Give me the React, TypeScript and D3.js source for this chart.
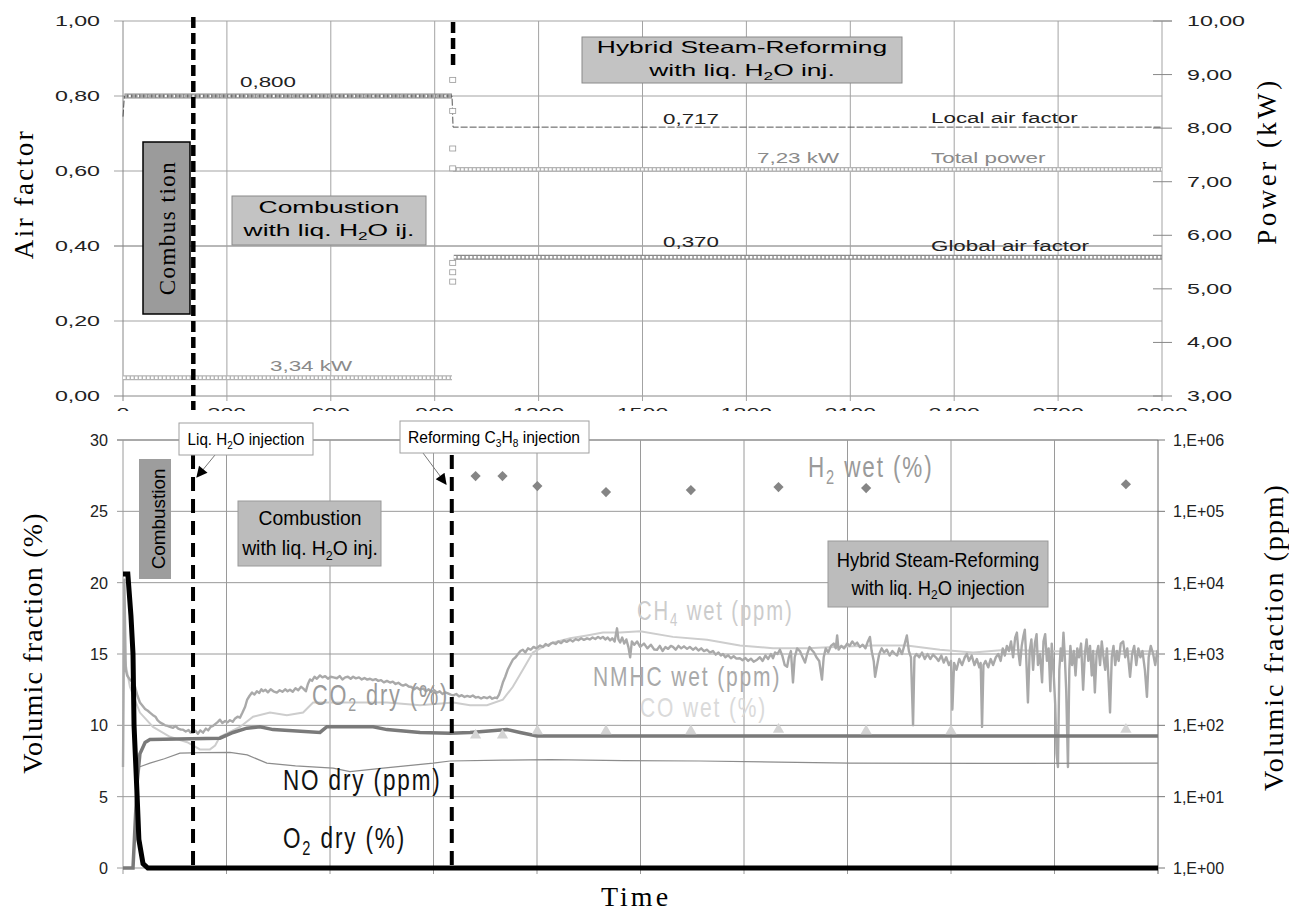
import React from "react";
import * as d3 from "d3";

const W = 1289;
const H = 911;
const SANS = "'Liberation Sans', Arial, Helvetica, sans-serif";
const SERIF = "'Liberation Serif', 'Times New Roman', Times, serif";

// ticks
const timeTicks = [0, 300, 600, 900, 1200, 1500, 1800, 2100, 2400, 2700, 3000];
const airTicks = [0, 0.2, 0.4, 0.6, 0.8, 1.0];
const powerTicks = [3, 4, 5, 6, 7, 8, 9, 10];
const fracTicks = [0, 5, 10, 15, 20, 25, 30];
const ppmTicks = [1, 10, 100, 1e3, 1e4, 1e5, 1e6];

// phase changes (s): liq. H2O injection, reforming C3H8 injection
const eventTimes = [203, 953];

// ---- top panel: [time s, value] ----
const localAir = [[0, 0.745], [4, 0.8], [950, 0.8], [953, 0.717], [3000, 0.717]];
const globalAir = [[4, 0.8], [950, 0.8], null, [955, 0.37], [3000, 0.37]];
const globalAirTransient = [[952, 0.843], [952, 0.76], [952, 0.66], [952, 0.607], [952, 0.355], [952, 0.33], [952, 0.305]];
const totalPower = [[0, 3.34], [950, 3.34], null, [953, 7.23], [3000, 7.23]];

// ---- bottom panel ----
// O2 dry (%)
const o2Dry = [[0, 20.6], [14, 20.6], [23, 17.7], [29, 15], [32, 10], [41, 5], [46, 2], [58, 0.3], [72, 0], [3000, 0]];
// CO2 dry (%)
const co2Dry = [[0, 0], [29, 0], [35, 3], [41, 6], [49, 8], [64, 8.8], [78, 9.0], [281, 9.1], [319, 9.5], [359, 9.8], [397, 9.9], [435, 9.7],
  [571, 9.5], [591, 9.9], [725, 9.9], [765, 9.7], [861, 9.5], [948, 9.45], [1006, 9.5], [1060, 9.6], [1113, 9.7], [1151, 9.5], [1200, 9.25], [3000, 9.25]];
// NO dry (ppm)
const noDry = [[49, 26.3], [78, 29.5], [120, 34], [165, 40.7], [230, 41.5], [310, 41.7], [360, 38.5], [417, 29.5], [500, 27], [609, 25.1],
  [658, 22.4], [754, 25.1], [899, 29.5], [948, 31.6], [1100, 32.5], [1238, 33.1], [1450, 32], [1672, 31.6], [1900, 30.5], [2107, 29.5],
  [2500, 29.3], [3000, 29.5]];
// CH4 wet (ppm)
const ch4Wet = [[0, 9000], [6, 800], [20, 347], [49, 151], [87, 95], [136, 69], [186, 58], [223, 46], [252, 46], [267, 52], [281, 69],
  [339, 95], [377, 132], [426, 151], [475, 138], [522, 151], [551, 209], [620, 209], [765, 209], [861, 191], [957, 209], [1006, 191],
  [1055, 191], [1101, 229], [1130, 347], [1159, 603], [1188, 1047], [1217, 1259], [1246, 1445], [1296, 1660], [1345, 1820], [1391, 1995],
  [1441, 1995], [1499, 2089], [1594, 1738], [1693, 1585], [1788, 1318], [1884, 1202], [1983, 1202], [2078, 1259], [2174, 1318],
  [2272, 1318], [2368, 1148], [2464, 1047], [2562, 1148], [2658, 1096], [2754, 1096], [2852, 1096], [2948, 1096], [3000, 1096]];
// NMHC wet (ppm)
const nmhcWet = [[0, 26], [4, 11000], [8, 600], [12, 500], [20, 437], [29, 400], [35, 347], [42, 260], [49, 209], [56, 190], [64, 170],
  [72, 160], [78, 151], [86, 140], [94, 132], [100, 118], [107, 110], [115, 105], [122, 100], [129, 98], [136, 95], [145, 92], [152, 98],
  [160, 90], [168, 87], [174, 87], [182, 82], [190, 86], [196, 79], [203, 79], [210, 84], [217, 76], [224, 85], [232, 79], [240, 90],
  [247, 85], [254, 95], [261, 98], [268, 105], [275, 112], [281, 120], [288, 108], [296, 115], [303, 110], [310, 118], [318, 112],
  [325, 125], [332, 132], [339, 128], [346, 150], [354, 182], [360, 230], [367, 260], [374, 288], [381, 270], [388, 300], [395, 285],
  [401, 320], [406, 300], [413, 316], [420, 290], [428, 320], [436, 300], [446, 288], [454, 310], [462, 295], [470, 320], [477, 300],
  [484, 316], [492, 295], [500, 330], [508, 310], [516, 347], [522, 330], [530, 300], [536, 380], [542, 440], [548, 420], [555, 480],
  [562, 450], [571, 501], [578, 470], [586, 490], [594, 450], [602, 480], [610, 470], [620, 457], [628, 490], [636, 440], [644, 470],
  [652, 480], [660, 450], [667, 479], [675, 455], [684, 470], [692, 440], [700, 460], [708, 437], [716, 450], [724, 430], [732, 445],
  [740, 420], [748, 430], [756, 400], [765, 420], [774, 398], [782, 410], [790, 380], [798, 395], [806, 370], [812, 360], [820, 375],
  [828, 350], [836, 345], [844, 320], [852, 340], [861, 316], [870, 330], [878, 300], [886, 320], [894, 295], [902, 310], [910, 288],
  [918, 300], [926, 275], [934, 290], [942, 280], [950, 270], [957, 263], [966, 275], [974, 255], [982, 265], [990, 250], [998, 258],
  [1006, 251], [1014, 262], [1022, 245], [1030, 250], [1038, 238], [1046, 248], [1055, 240], [1063, 252], [1070, 236], [1078, 245],
  [1084, 240], [1090, 270], [1096, 330], [1101, 398], [1108, 480], [1115, 600], [1122, 700], [1130, 832], [1138, 900], [1145, 1000],
  [1152, 1100], [1159, 1148], [1166, 1050], [1174, 1200], [1182, 1148], [1190, 1259], [1198, 1200], [1209, 1318], [1217, 1250],
  [1225, 1380], [1233, 1300], [1240, 1400], [1246, 1445], [1254, 1380], [1262, 1500], [1270, 1420], [1278, 1550], [1286, 1480],
  [1296, 1585], [1304, 1500], [1312, 1620], [1320, 1560], [1328, 1660], [1336, 1580], [1345, 1660], [1353, 1600], [1361, 1700],
  [1369, 1620], [1377, 1738], [1384, 1650], [1391, 1738], [1398, 1600], [1405, 1700], [1412, 1550], [1418, 1660], [1425, 1500],
  [1432, 2291], [1436, 1600], [1441, 1450], [1447, 1700], [1453, 1400], [1459, 1600], [1465, 1250], [1470, 900], [1475, 1500],
  [1482, 1350], [1490, 1500], [1499, 1259], [1510, 1400], [1520, 1200], [1530, 1350], [1540, 1150], [1548, 1148], [1556, 1300],
  [1564, 1100], [1572, 1250], [1580, 1180], [1588, 1300], [1594, 1259], [1602, 1150], [1610, 1300], [1618, 1200], [1626, 1280],
  [1635, 1180], [1643, 1259], [1652, 1150], [1660, 1230], [1668, 1120], [1676, 1200], [1684, 1100], [1693, 1148], [1701, 1050],
  [1710, 1100], [1718, 980], [1726, 1050], [1733, 955], [1739, 1000], [1746, 900], [1754, 960], [1762, 871], [1770, 930], [1778, 860],
  [1788, 871], [1796, 820], [1804, 880], [1812, 800], [1820, 860], [1828, 780], [1838, 832], [1846, 900], [1854, 800], [1862, 950],
  [1870, 850], [1878, 1000], [1884, 871], [1890, 1050], [1897, 1000], [1904, 1148], [1911, 950], [1918, 700], [1925, 661], [1930, 900],
  [1936, 1100], [1942, 398], [1947, 900], [1954, 1200], [1962, 1100], [1970, 900], [1977, 759], [1983, 1000], [1990, 1250], [1996, 1148],
  [2003, 1050], [2010, 900], [2018, 800], [2026, 437], [2031, 900], [2037, 1200], [2044, 1050], [2052, 1300], [2060, 1400], [2066, 1200],
  [2070, 1820], [2074, 1150], [2082, 1300], [2090, 1200], [2099, 1400], [2106, 1300], [2114, 1500], [2121, 1350], [2128, 1445],
  [2136, 1250], [2144, 1350], [2152, 1200], [2159, 1500], [2165, 1738], [2170, 1100], [2176, 800], [2180, 479], [2186, 700], [2192, 1000],
  [2199, 1200], [2206, 1050], [2214, 1150], [2222, 950], [2230, 1100], [2238, 1000], [2244, 955], [2250, 1200], [2258, 1000],
  [2266, 1400], [2272, 1820], [2278, 1100], [2284, 900], [2290, 100], [2294, 900], [2300, 1000], [2308, 900], [2316, 1050], [2324, 850],
  [2332, 1000], [2340, 850], [2348, 980], [2356, 900], [2364, 800], [2372, 950], [2379, 759], [2386, 900], [2394, 700], [2400, 800],
  [2404, 166], [2409, 750], [2416, 600], [2424, 850], [2432, 700], [2440, 900], [2446, 1000], [2452, 800], [2460, 950], [2468, 700],
  [2475, 850], [2482, 650], [2486, 750], [2490, 95], [2494, 700], [2500, 800], [2508, 650], [2515, 850], [2522, 700], [2530, 900],
  [2537, 1000], [2544, 800], [2550, 1200], [2556, 950], [2562, 1300], [2568, 1100], [2574, 1500], [2580, 900], [2586, 1700],
  [2591, 1995], [2596, 1000], [2600, 700], [2605, 1300], [2610, 1800], [2614, 2188], [2618, 900], [2623, 209], [2628, 1100],
  [2633, 1600], [2638, 600], [2643, 1400], [2648, 1900], [2652, 700], [2658, 1000], [2664, 400], [2668, 1500], [2673, 1900], [2678, 800],
  [2683, 1200], [2688, 300], [2692, 1400], [2697, 600], [2702, 200], [2706, 40], [2710, 26], [2714, 600], [2718, 1200], [2722, 800],
  [2726, 1995], [2730, 900], [2734, 300], [2739, 26], [2743, 600], [2746, 1300], [2751, 700], [2756, 1100], [2761, 500], [2766, 1200],
  [2771, 900], [2777, 1400], [2783, 316], [2788, 1000], [2793, 1600], [2798, 800], [2803, 1300], [2808, 500], [2812, 1100], [2817, 288],
  [2822, 1000], [2827, 1300], [2832, 700], [2837, 1500], [2842, 900], [2847, 600], [2852, 1200], [2857, 400], [2861, 151], [2866, 900],
  [2871, 1300], [2876, 700], [2881, 1100], [2886, 800], [2892, 1400], [2899, 1500], [2905, 900], [2911, 1200], [2919, 479], [2925, 1000],
  [2931, 1300], [2937, 700], [2943, 1200], [2949, 900], [2955, 1100], [2962, 600], [2968, 251], [2973, 900], [2979, 1300], [2986, 1000],
  [2992, 700], [2998, 1100], [3000, 900]];
// H2 wet (%) and CO wet (%) samples
const h2Wet = [[1022, 27.47], [1100, 27.47], [1201, 26.77], [1400, 26.35], [1646, 26.49], [1900, 26.7], [2154, 26.63], [2907, 26.9]];
const coWet = [[1022, 9.3], [1100, 9.3], [1201, 9.6], [1400, 9.6], [1646, 9.6], [1900, 9.7], [2154, 9.6], [2400, 9.6], [2907, 9.7]];

// scales
const xTop = d3.scaleLinear().domain([0, 3000]).range([123, 1162]);
const yAir = d3.scaleLinear().domain([0, 1]).range([396, 21]);
const yPow = d3.scaleLinear().domain([3, 10]).range([396, 21]);
const xBot = d3.scaleLinear().domain([0, 3000]).range([123, 1158]);
const yPct = d3.scaleLinear().domain([0, 30]).range([868, 440]);
const yPpm = d3.scaleLog().domain([1, 1e6]).range([868, 440]);

const mkLine = (xs, ys) =>
  d3.line().defined((d) => d != null).x((d) => xs(d[0])).y((d) => ys(d[1]));

const comma = (v, n) => v.toFixed(n).replace(".", ",");

// text helper: translate, rotate, then horizontal stretch along text direction
const Txt = ({ x, y, size, sx = 1, rot = 0, fam = SANS, fill = "#000", anchor = "start", ls = 0, children }) => (
  <text
    transform={`translate(${x},${y}) rotate(${rot}) scale(${sx},1)`}
    fontSize={size}
    fontFamily={fam}
    fill={fill}
    textAnchor={anchor}
    letterSpacing={ls}
  >
    {children}
  </text>
);

// segments at odd positions are subscripts
const chem = (segs, size) =>
  segs.map((s, i) => {
    const sub = i % 2 === 1;
    const dy = sub ? size * 0.22 : i > 0 ? -size * 0.22 : 0;
    return (
      <tspan key={i} fontSize={sub ? size * 0.65 : undefined} dy={dy || undefined}>
        {s}
      </tspan>
    );
  });

// band of hollow square markers
const Hatch = ({ d, color }) => (
  <g fill="none">
    <path d={d} stroke={color} strokeWidth={5} />
    <path d={d} stroke="#fff" strokeWidth={2.4} strokeDasharray="2.6,1.4" />
  </g>
);

const App = () => {
  const airLine = mkLine(xTop, yAir);
  const powLine = mkLine(xTop, yPow);
  const pctLine = mkLine(xBot, yPct);
  const ppmLine = mkLine(xBot, yPpm);
  const diamond = d3.symbol(d3.symbolSquare, 52)();
  const triangle = d3.symbol(d3.symbolTriangle, 55)();

  const R = xTop.range()[1];
  const BR = xBot.range()[1];

  return (
    <svg width={W} height={H} style={{ position: "absolute", left: 0, top: 0, background: "#fff" }}>
      <defs>
        <clipPath id="xlabclip">
          <rect x={0} y={406} width={W} height={5} />
        </clipPath>
        <marker id="ah" viewBox="0 0 10 10" refX={9} refY={5} markerWidth={13} markerHeight={11} markerUnits="userSpaceOnUse" orient="auto">
          <path d="M0,0 L10,5 L0,10 z" fill="#000" />
        </marker>
      </defs>

      {/* ================= TOP PANEL ================= */}
      <g strokeWidth={1}>
        {airTicks.map((v) => (
          <line key={v} x1={114} x2={v === 1 ? 1172 : R} y1={yAir(v)} y2={yAir(v)}
            stroke={v === 0 ? "#888" : v === 0.4 ? "#707070" : "#a3a3a3"} />
        ))}
        {timeTicks.map((t) => (
          <line key={t} x1={xTop(t)} x2={xTop(t)} y1={yAir(1)} y2={yAir(0) + 5} stroke={t === 0 ? "#888" : "#a3a3a3"} />
        ))}
        {powerTicks.map((p) => (
          <line key={p} x1={R - 9} x2={R + 10} y1={yPow(p)} y2={yPow(p)} stroke="#888" />
        ))}
      </g>

      {/* tick labels */}
      {airTicks.map((v) => (
        <Txt key={v} x={100} y={yAir(v) + 5} size={14.5} sx={1.6} anchor="end" fill="#222">
          {comma(v, 2)}
        </Txt>
      ))}
      {powerTicks.map((p) => (
        <Txt key={p} x={1187} y={yPow(p) + 5} size={14.5} sx={1.6} fill="#222">
          {comma(p, 2)}
        </Txt>
      ))}
      <g clipPath="url(#xlabclip)">
        {timeTicks.map((t) => (
          <Txt key={t} x={xTop(t)} y={418} size={14.5} sx={1.6} anchor="middle" fill="#222">
            {t}
          </Txt>
        ))}
      </g>

      {/* series */}
      <Hatch d={powLine(totalPower)} color="#b4b4b4" />
      <Hatch d={airLine(globalAir)} color="#8a8a8a" />
      <path d={airLine(localAir)} fill="none" stroke="#555" strokeWidth={1} strokeDasharray="7,2" />
      {globalAirTransient.map((d, i) => (
        <rect key={i} x={xTop(d[0]) - 3} y={yAir(d[1]) - 2.5} width={6} height={5} fill="#fff" stroke="#999" strokeWidth={0.8} />
      ))}

      {/* phase lines */}
      <line x1={xTop(eventTimes[0])} x2={xTop(eventTimes[0])} y1={17} y2={410} stroke="#000" strokeWidth={4.5} strokeDasharray="11,5" />
      <line x1={xTop(eventTimes[1])} x2={xTop(eventTimes[1])} y1={22} y2={67} stroke="#000" strokeWidth={4.5} strokeDasharray="11,5" />

      {/* annotations */}
      <rect x={143} y={142} width={47} height={172} fill="#9b9b9b" stroke="#000" strokeWidth={1.5} />
      <Txt x={175} y={228} size={23} rot={-90} fam={SERIF} anchor="middle" ls={1.5}>
        Combus tion
      </Txt>
      <rect x={232} y={196} width={194} height={49} fill="#c3c3c3" stroke="#8a8a8a" />
      <Txt x={329} y={213} size={16.5} sx={1.6} anchor="middle">Combustion</Txt>
      <Txt x={329} y={236} size={16.5} sx={1.6} anchor="middle">{chem(["with liq. H", "2", "O ij."], 16.5)}</Txt>
      <rect x={582} y={37} width={320} height={46} fill="#c3c3c3" stroke="#8a8a8a" />
      <Txt x={742} y={53} size={16.5} sx={1.6} anchor="middle">Hybrid Steam-Reforming</Txt>
      <Txt x={742} y={76} size={16.5} sx={1.6} anchor="middle">{chem(["with liq. H", "2", "O inj."], 16.5)}</Txt>

      <Txt x={268} y={87} size={14} sx={1.6} anchor="middle" fill="#222">0,800</Txt>
      <Txt x={691} y={124} size={14} sx={1.6} anchor="middle" fill="#222">0,717</Txt>
      <Txt x={691} y={247} size={14} sx={1.6} anchor="middle" fill="#222">0,370</Txt>
      <Txt x={757} y={163} size={14} sx={1.6} fill="#8a8a8a">7,23 kW</Txt>
      <Txt x={270} y={371} size={14} sx={1.6} fill="#8a8a8a">3,34 kW</Txt>
      <Txt x={931} y={123} size={14} sx={1.6} fill="#222">Local air factor</Txt>
      <Txt x={931} y={163} size={14} sx={1.6} fill="#8a8a8a">Total power</Txt>
      <Txt x={931} y={251} size={14} sx={1.6} fill="#222">Global air factor</Txt>

      <Txt x={33} y={194} size={27} rot={-90} fam={SERIF} anchor="middle" ls={2.5}>Air factor</Txt>
      <Txt x={1276} y={161} size={27} rot={-90} fam={SERIF} anchor="middle" ls={3.5}>Power (kW)</Txt>

      {/* ================= BOTTOM PANEL ================= */}
      <g strokeWidth={1}>
        {fracTicks.map((v) => (
          <line key={v} x1={117} x2={BR} y1={yPct(v)} y2={yPct(v)} stroke={v === 30 ? "#555" : "#9a9a9a"} />
        ))}
        {timeTicks.map((t) => (
          <line key={t} x1={xBot(t)} x2={xBot(t)} y1={yPct(30)} y2={yPct(0) + 6} stroke={t === 3000 ? "#666" : "#9a9a9a"} />
        ))}
        {ppmTicks.map((p) => (
          <line key={p} x1={BR} x2={BR + 7} y1={yPpm(p)} y2={yPpm(p)} stroke="#777" />
        ))}
      </g>
      {fracTicks.map((v) => (
        <Txt key={v} x={108} y={yPct(v) + 6} size={17} sx={0.95} anchor="end" fill="#222">{v}</Txt>
      ))}
      {ppmTicks.map((p) => (
        <Txt key={p} x={1173} y={yPpm(p) + 6} size={16} fill="#222">{`1,E+0${Math.round(Math.log10(p))}`}</Txt>
      ))}

      {/* series */}
      <path d={ppmLine(ch4Wet)} fill="none" stroke="#cdcdcd" strokeWidth={2} />
      <path d={ppmLine(nmhcWet)} fill="none" stroke="#a9a9a9" strokeWidth={2.4} strokeLinejoin="round" />
      <path d={ppmLine(noDry)} fill="none" stroke="#8c8c8c" strokeWidth={1.2} />
      <path d={pctLine(co2Dry)} fill="none" stroke="#7a7a7a" strokeWidth={3.5} />
      {coWet.map((d, i) => (
        <path key={i} d={triangle} transform={`translate(${xBot(d[0])},${yPct(d[1])})`} fill="#d4d4d4" />
      ))}
      {h2Wet.map((d, i) => (
        <path key={i} d={diamond} transform={`translate(${xBot(d[0])},${yPct(d[1])}) rotate(45)`} fill="#858585" />
      ))}
      <path d={pctLine(o2Dry)} fill="none" stroke="#000" strokeWidth={5} />

      {/* phase lines */}
      {eventTimes.map((t) => (
        <line key={t} x1={xBot(t)} x2={xBot(t)} y1={455} y2={868} stroke="#000" strokeWidth={4} strokeDasharray="14,8" />
      ))}

      {/* callouts */}
      <line x1={215} y1={455} x2={197} y2={477} stroke="#777" strokeWidth={1} markerEnd="url(#ah)" />
      <line x1={423} y1={453} x2={446} y2={484} stroke="#777" strokeWidth={1} markerEnd="url(#ah)" />
      <rect x={179} y={423} width={134} height={32} fill="#fff" stroke="#a0a0a0" />
      <Txt x={246} y={445} size={16.5} sx={0.92} anchor="middle">{chem(["Liq. H", "2", "O injection"], 16.5)}</Txt>
      <rect x={400} y={421} width={189} height={32} fill="#fff" stroke="#a0a0a0" />
      <Txt x={494} y={443} size={17} sx={0.92} anchor="middle">{chem(["Reforming C", "3", "H", "8", " injection"], 17)}</Txt>

      <rect x={139} y={459} width={32} height={120} fill="#9d9d9d" />
      <Txt x={165} y={519} size={18} sx={1.05} rot={-90} anchor="middle">Combustion</Txt>
      <rect x={238} y={501} width={143} height={65} fill="#bcbcbc" stroke="#9a9a9a" />
      <Txt x={310} y={525} size={21} sx={0.92} anchor="middle">Combustion</Txt>
      <Txt x={310} y={555} size={21} sx={0.92} anchor="middle">{chem(["with liq. H", "2", "O inj."], 21)}</Txt>
      <rect x={828} y={541} width={220} height={66} fill="#bcbcbc" stroke="#9a9a9a" />
      <Txt x={938} y={567} size={20} sx={0.92} anchor="middle">Hybrid Steam-Reforming</Txt>
      <Txt x={938} y={595} size={20} sx={0.92} anchor="middle">{chem(["with liq. H", "2", "O injection"], 20)}</Txt>

      {/* series labels */}
      <Txt x={808} y={477} size={30} sx={0.75} ls={2.5} fill="#9a9a9a">{chem(["H", "2", " wet (%)"], 30)}</Txt>
      <Txt x={637} y={620} size={27} sx={0.75} ls={2.5} fill="#cccccc">{chem(["CH", "4", " wet (ppm)"], 27)}</Txt>
      <Txt x={593} y={686} size={28} sx={0.75} ls={2.5} fill="#a9a9a9">NMHC wet (ppm)</Txt>
      <Txt x={640} y={717} size={28} sx={0.75} ls={2.5} fill="#dadada">CO wet (%)</Txt>
      <Txt x={312} y={705} size={29} sx={0.75} ls={2.5} fill="#9a9a9a">{chem(["CO", "2", " dry (%)"], 29)}</Txt>
      <Txt x={283} y={790} size={30} sx={0.75} ls={2.5} fill="#111">NO dry (ppm)</Txt>
      <Txt x={283} y={848} size={30} sx={0.75} ls={2.5} fill="#111">{chem(["O", "2", " dry (%)"], 30)}</Txt>

      <Txt x={42} y={643} size={28} rot={-90} fam={SERIF} anchor="middle" ls={1.2}>Volumic fraction (%)</Txt>
      <Txt x={1283} y={637} size={28} rot={-90} fam={SERIF} anchor="middle" ls={2}>Volumic fraction (ppm)</Txt>
      <Txt x={636} y={906} size={28} fam={SERIF} anchor="middle" ls={3}>Time</Txt>
    </svg>
  );
};

export default App;
